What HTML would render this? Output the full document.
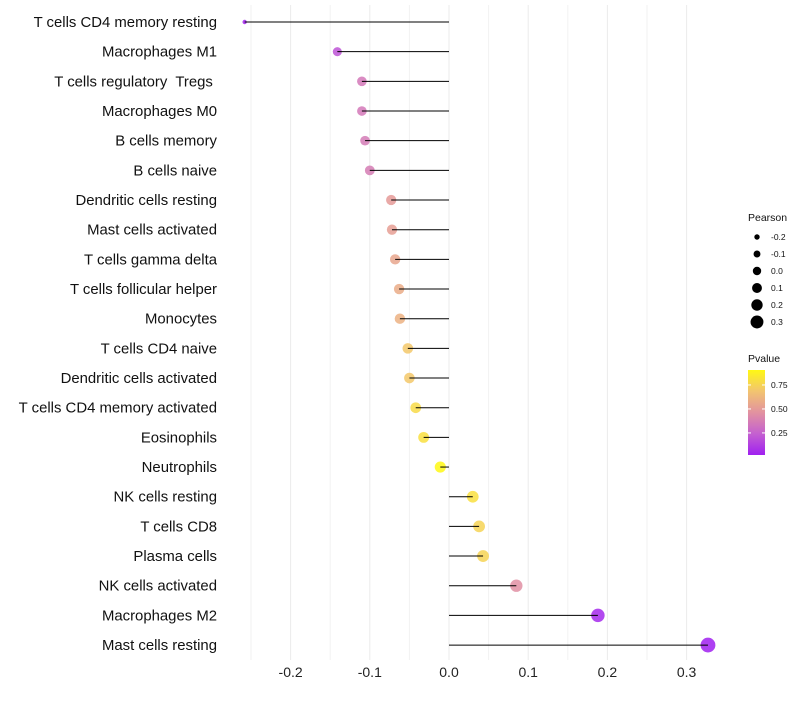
<!DOCTYPE html>
<html><head><meta charset="utf-8"><style>
body{margin:0;background:#fff;font-family:"Liberation Sans",sans-serif}
text{white-space:pre}
</style></head><body>
<svg id="chart" width="800" height="700" xmlns="http://www.w3.org/2000/svg"></svg>
<script>
const categories=["T cells CD4 memory resting","Macrophages M1","T cells regulatory  Tregs ","Macrophages M0","B cells memory","B cells naive","Dendritic cells resting","Mast cells activated","T cells gamma delta","T cells follicular helper","Monocytes","T cells CD4 naive","Dendritic cells activated","T cells CD4 memory activated","Eosinophils","Neutrophils","NK cells resting","T cells CD8","Plasma cells","NK cells activated","Macrophages M2","Mast cells resting"];
const pearson=[-0.258,-0.141,-0.110,-0.110,-0.106,-0.100,-0.073,-0.072,-0.068,-0.063,-0.062,-0.052,-0.050,-0.042,-0.032,-0.011,0.030,0.038,0.043,0.085,0.188,0.327];
const pvalue=[0.03,0.2,0.35,0.35,0.36,0.37,0.5,0.52,0.55,0.58,0.6,0.7,0.7,0.78,0.8,0.906,0.8,0.75,0.75,0.45,0.05,0.02];
const xTicks=[-0.2,-0.1,0.0,0.1,0.2,0.3];
const xTickLabels=["-0.2","-0.1","0.0","0.1","0.2","0.3"];
const minorTicks=[-0.25,-0.15,-0.05,0.05,0.15,0.25];
const sizeLegend=[-0.2,-0.1,0.0,0.1,0.2,0.3];
const sizeLegendLabels=["-0.2","-0.1","0.0","0.1","0.2","0.3"];
const pLegend=[0.25,0.5,0.75];
const pLegendLabels=["0.25","0.50","0.75"];

const svg=document.getElementById('chart');
const NS="http://www.w3.org/2000/svg";
function mk(t,a,p){const e=document.createElementNS(NS,t);for(const k in a)e.setAttribute(k,a[k]);(p||svg).appendChild(e);return e;}
const x=v=>449+v*792;
const y=i=>22+i*29.67;
const pMin=Math.min(...pvalue),pMax=Math.max(...pvalue);
const vMin=Math.min(...pearson),vMax=Math.max(...pearson);
const rad=v=>2.2+5.2*Math.sqrt(Math.max(0,(v-vMin)/(vMax-vMin)));
const stops=[[0,[160,32,240]],[0.25,[196,96,208]],[0.5,[226,146,160]],[0.75,[242,196,112]],[1,[255,248,20]]];
function col(p){let t=(p-pMin)/(pMax-pMin);t=Math.max(0,Math.min(1,t));for(let k=0;k<stops.length-1;k++){const a=stops[k],b=stops[k+1];if(t<=b[0]){const f=(t-a[0])/(b[0]-a[0]);const c=a[1].map((v,j)=>Math.round(v+(b[1][j]-v)*f));return `rgb(${c})`;}}return 'rgb(255,248,20)';}

const grid=mk('g',{});


minorTicks.forEach(v=>{const l=mk('line',{x1:x(v),x2:x(v),y1:5,y2:660,stroke:'#f2f2f2','stroke-width':1},grid);

});
xTicks.forEach((v,i)=>{const l=mk('line',{x1:x(v),x2:x(v),y1:5,y2:660,stroke:'#ebebeb','stroke-width':1},grid);


const t=mk('text',{x:x(v),y:677,'text-anchor':'middle','font-size':14,fill:'#222'});t.textContent=xTickLabels[i];

});

categories.forEach((c,i)=>{
const t=mk('text',{x:217,y:y(i)+5,'text-anchor':'end','font-size':14.9,fill:'#111'});t.textContent=c;


const pt=mk('circle',{cx:x(pearson[i]),cy:y(i),r:rad(pearson[i]),fill:col(pvalue[i]),'fill-opacity':0.85});


const l=mk('line',{x1:x(0),x2:x(pearson[i]),y1:y(i),y2:y(i),stroke:'#000','stroke-width':1});


});

const lg=mk('g',{});


const lt=mk('text',{x:748,y:221,'font-size':10.5,fill:'#111'},lg);lt.textContent='Pearson';
sizeLegend.forEach((v,i)=>{const cy=237+i*17;
const c=mk('circle',{cx:757,cy:cy,r:2.7+i*0.75,fill:'#000'},lg);


const t=mk('text',{x:771,y:cy+3,'font-size':8.5,fill:'#111'},lg);t.textContent=sizeLegendLabels[i];});

const cg=mk('g',{});


const ct=mk('text',{x:748,y:362,'font-size':10.5,fill:'#111'},cg);ct.textContent='Pvalue';
const defs=mk('defs',{});
const grad=mk('linearGradient',{id:'pg',x1:0,y1:1,x2:0,y2:0},defs);
stops.forEach(s=>mk('stop',{offset:s[0],'stop-color':`rgb(${s[1]})`},grad));
const bar=mk('rect',{x:748,y:370,width:17,height:85,fill:'url(#pg)'},cg);


const py=p=>455-(p-pMin)/(pMax-pMin)*85;
pLegend.forEach((p,i)=>{
mk('line',{x1:748,x2:751,y1:py(p),y2:py(p),stroke:'#fff'},cg);
mk('line',{x1:762,x2:765,y1:py(p),y2:py(p),stroke:'#fff'},cg);
const t=mk('text',{x:771,y:py(p)+3,'font-size':8.5,fill:'#111'},cg);t.textContent=pLegendLabels[i];});
</script>
</body></html>
